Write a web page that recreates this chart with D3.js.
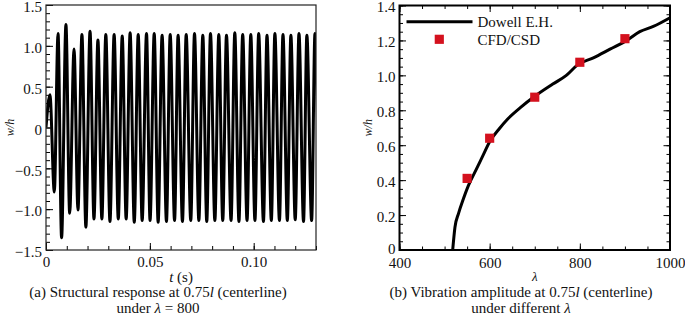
<!DOCTYPE html>
<html>
<head>
<meta charset="utf-8">
<script src="https://cdn.jsdelivr.net/npm/d3@7"></script>
<style>
  body { margin: 0; background: #fff; }
  svg text { font-family: "Liberation Serif", "Times New Roman", serif; fill: #111; }
</style>
</head>
<body>
<div id="chart-container"></div>
<script>
// (a) time response w/h at 0.75l, lambda = 800 -- extrema
const peakT = [0.0019, 0.0058, 0.0096, 0.0135, 0.0173, 0.0212, 0.0250, 0.0288, 0.0328, 0.0367,
               0.0405, 0.0444, 0.0484, 0.0521, 0.0559, 0.0598, 0.0636, 0.0675, 0.0715, 0.0755,
               0.0792, 0.0832, 0.0869, 0.0909, 0.0947, 0.0986, 0.1024, 0.1064, 0.1102, 0.1141,
               0.1179, 0.1218, 0.1256, 0.1295];
const peakW = [0.40, 1.15, 1.26, 0.96, 1.14, 1.18, 1.07, 1.14, 1.14, 1.12,
               1.16, 1.14, 1.15, 1.15, 1.13, 1.14, 1.13, 1.14, 1.15, 1.13,
               1.15, 1.14, 1.13, 1.16, 1.14, 1.14, 1.15, 1.13, 1.15, 1.14,
               1.13, 1.15, 1.13, 1.15];
const troughT = [0.0040, 0.0075, 0.0114, 0.0154, 0.0192, 0.0231, 0.0269, 0.0308, 0.0348, 0.0386,
                 0.0425, 0.0463, 0.0501, 0.0540, 0.0580, 0.0619, 0.0657, 0.0697, 0.0736, 0.0774,
                 0.0813, 0.0851, 0.0891, 0.0929, 0.0968, 0.1006, 0.1047, 0.1085, 0.1124, 0.1162,
                 0.1200, 0.1240, 0.1279, 0.1315];
const troughW = [-0.79, -1.35, -1.05, -1.01, -1.22, -1.12, -1.12, -1.15, -1.12, -1.12,
                 -1.16, -1.14, -1.14, -1.16, -1.15, -1.14, -1.15, -1.14, -1.14, -1.15,
                 -1.14, -1.14, -1.14, -1.15, -1.14, -1.14, -1.15, -1.14, -1.14, -1.14,
                 -1.13, -1.15, -1.14, -1.14];

// (b) amplitude vs lambda
const dowellL = [518, 523, 531, 540, 553, 570, 585, 600, 620, 640, 668, 700, 740, 770, 795, 830, 867, 904, 933, 963, 1000];
const dowellW = [0, 0.13, 0.21, 0.28, 0.37, 0.46, 0.54, 0.62, 0.69, 0.75, 0.815, 0.88, 0.95, 1.00, 1.06, 1.10, 1.15, 1.20, 1.25, 1.28, 1.33];
const cfdL = [550, 600, 700, 800, 900];
const cfdW = [0.41, 0.64, 0.875, 1.075, 1.21];

// ticks
const aXTicks = [0, 0.05, 0.10];
const aYTicks = [-1.5, -1.0, -0.5, 0, 0.5, 1.0, 1.5];
const bXTicks = [400, 600, 800, 1000];
const bYTicks = [0, 0.2, 0.4, 0.6, 0.8, 1.0, 1.2, 1.4];

const svg = d3.select("#chart-container").append("svg")
    .attr("width", 685).attr("height", 318);

function fmtA(d) { return d === 0 ? "0" : d3.format(".1f")(d); }

// ---------- panel (a) ----------
const a = { left: 46, right: 316, top: 5, bottom: 250 };
const ax = d3.scaleLinear().domain([0, 0.13]).range([a.left, a.right]);
const ay = d3.scaleLinear().domain([-1.5, 1.5]).range([a.bottom, a.top]);

svg.append("clipPath").attr("id", "clipA").append("rect")
    .attr("x", a.left).attr("y", a.top).attr("width", a.right - a.left).attr("height", a.bottom - a.top);

let resp = [{ t: 0, w: 0 }];
peakT.forEach(function(t, i) {
    resp.push({ t: t, w: peakW[i] });
    resp.push({ t: troughT[i], w: troughW[i] });
});

svg.append("path")
    .datum(resp)
    .attr("clip-path", "url(#clipA)")
    .attr("fill", "none")
    .attr("stroke", "#000")
    .attr("stroke-width", 3)
    .attr("d", d3.line().x(d => ax(d.t)).y(d => ay(d.w)).curve(d3.curveMonotoneX));

// minor ticks
svg.append("g").attr("transform", `translate(0,${a.bottom})`)
    .call(d3.axisBottom(ax).tickValues(d3.range(0, 0.1301, 0.01)).tickSize(-4).tickFormat(""));
svg.append("g").attr("transform", `translate(${a.left},0)`)
    .call(d3.axisLeft(ay).tickValues(d3.range(-1.5, 1.501, 0.1)).tickSize(-4).tickFormat(""));

// major ticks
svg.append("g").attr("transform", `translate(0,${a.bottom})`)
    .call(d3.axisBottom(ax).tickValues(aXTicks).tickSize(-7).tickPadding(6)
        .tickFormat(d => d === 0 ? "0" : d3.format(".2f")(d)))
    .call(g => g.selectAll("text").attr("font-size", 15).attr("font-family", null));
svg.append("g").attr("transform", `translate(${a.left},0)`)
    .call(d3.axisLeft(ay).tickValues(aYTicks).tickSize(-7).tickPadding(4).tickFormat(fmtA))
    .call(g => g.selectAll("text").attr("font-size", 15).attr("font-family", null).attr("dy", "0.45em"));

svg.append("text")
    .attr("transform", `translate(14,${(a.top + a.bottom) / 2}) rotate(-90)`)
    .attr("text-anchor", "middle").attr("font-size", 12).attr("font-style", "italic")
    .text("w/h");

svg.append("text")
    .attr("x", (a.left + a.right) / 2).attr("y", 282)
    .attr("text-anchor", "middle").attr("font-size", 15)
    .html('<tspan font-style="italic">t</tspan> (s)');

svg.append("text")
    .attr("x", 158).attr("y", 297)
    .attr("text-anchor", "middle").attr("font-size", 15)
    .html('(a) Structural response at 0.75<tspan font-style="italic">l</tspan> (centerline)');
svg.append("text")
    .attr("x", 158).attr("y", 313)
    .attr("text-anchor", "middle").attr("font-size", 15)
    .html('under <tspan font-style="italic">λ</tspan> = 800');

// ---------- panel (b) ----------
const b = { left: 399.5, right: 670, top: 5.5, bottom: 250 };
const bx = d3.scaleLinear().domain([400, 1000]).range([b.left, b.right]);
const by = d3.scaleLinear().domain([0, 1.4]).range([b.bottom, b.top]);

const minorBX = d3.range(400, 1000.1, 50);
const minorBY = d3.range(0, 1.401, 0.05);

// minor ticks on all four sides
svg.append("g").attr("transform", `translate(0,${b.bottom})`)
    .call(d3.axisBottom(bx).tickValues(minorBX).tickSize(-3.5).tickFormat(""));
svg.append("g").attr("transform", `translate(0,${b.top})`)
    .call(d3.axisTop(bx).tickValues(minorBX).tickSize(-3.5).tickFormat(""));
svg.append("g").attr("transform", `translate(${b.left},0)`)
    .call(d3.axisLeft(by).tickValues(minorBY).tickSize(-3.5).tickFormat(""));
svg.append("g").attr("transform", `translate(${b.right},0)`)
    .call(d3.axisRight(by).tickValues(minorBY).tickSize(-3.5).tickFormat(""));

// major ticks
svg.append("g").attr("transform", `translate(0,${b.bottom})`)
    .call(d3.axisBottom(bx).tickValues(bXTicks).tickSize(-6.5).tickPadding(7).tickFormat(d3.format("d")))
    .call(g => g.selectAll("text").attr("font-size", 15).attr("font-family", null));
svg.append("g").attr("transform", `translate(0,${b.top})`)
    .call(d3.axisTop(bx).tickValues(bXTicks).tickSize(-6.5).tickFormat(""));
svg.append("g").attr("transform", `translate(${b.left},0)`)
    .call(d3.axisLeft(by).tickValues(bYTicks).tickSize(-6.5).tickPadding(4)
        .tickFormat(d => d === 0 ? "0" : d3.format(".1f")(d)))
    .call(g => g.selectAll("text").attr("font-size", 15).attr("font-family", null)
        .attr("dy", d => d === 0 ? "0.2em" : "0.4em"));
svg.append("g").attr("transform", `translate(${b.right},0)`)
    .call(d3.axisRight(by).tickValues(bYTicks).tickSize(-6.5).tickFormat(""));

svg.selectAll(".domain").remove();

// frames
svg.append("rect")
    .attr("x", a.left).attr("y", a.top)
    .attr("width", a.right - a.left).attr("height", a.bottom - a.top)
    .attr("fill", "none").attr("stroke", "#222").attr("stroke-width", 1.2);
svg.append("rect")
    .attr("x", b.left).attr("y", b.top)
    .attr("width", b.right - b.left).attr("height", b.bottom - b.top)
    .attr("fill", "none").attr("stroke", "#000").attr("stroke-width", 2);

const dowell = dowellL.map((l, i) => ({ l: l, w: dowellW[i] }));
svg.append("path")
    .datum(dowell)
    .attr("fill", "none").attr("stroke", "#000").attr("stroke-width", 3)
    .attr("d", d3.line().x(d => bx(d.l)).y(d => by(d.w)).curve(d3.curveMonotoneX));

const square = d3.symbol().type(d3.symbolSquare).size(84);
svg.selectAll("path.cfd")
    .data(cfdL.map((l, i) => ({ l: l, w: cfdW[i] })))
    .enter().append("path")
    .attr("class", "cfd")
    .attr("transform", d => `translate(${bx(d.l)},${by(d.w)})`)
    .attr("d", square)
    .attr("fill", "#d4111e");

// legend
svg.append("line")
    .attr("x1", 406.5).attr("x2", 472.5).attr("y1", 21.7).attr("y2", 21.7)
    .attr("stroke", "#000").attr("stroke-width", 3);
svg.append("text").attr("x", 477.5).attr("y", 26.5).attr("font-size", 15).text("Dowell E.H.");
svg.append("path")
    .attr("transform", "translate(439.3,39.3)")
    .attr("d", square).attr("fill", "#d4111e");
svg.append("text").attr("x", 477.5).attr("y", 44.5).attr("font-size", 15).text("CFD/CSD");

svg.append("text")
    .attr("transform", `translate(372,${(b.top + b.bottom) / 2}) rotate(-90)`)
    .attr("text-anchor", "middle").attr("font-size", 12).attr("font-style", "italic")
    .text("w/h");

svg.append("text")
    .attr("x", (b.left + b.right) / 2).attr("y", 281)
    .attr("text-anchor", "middle").attr("font-size", 13).attr("font-style", "italic")
    .text("λ");

svg.append("text")
    .attr("x", 521).attr("y", 297)
    .attr("text-anchor", "middle").attr("font-size", 15)
    .html('(b) Vibration amplitude at 0.75<tspan font-style="italic">l</tspan> (centerline)');
svg.append("text")
    .attr("x", 521).attr("y", 313)
    .attr("text-anchor", "middle").attr("font-size", 15)
    .html('under different <tspan font-style="italic">λ</tspan>');
</script>
</body>
</html>
